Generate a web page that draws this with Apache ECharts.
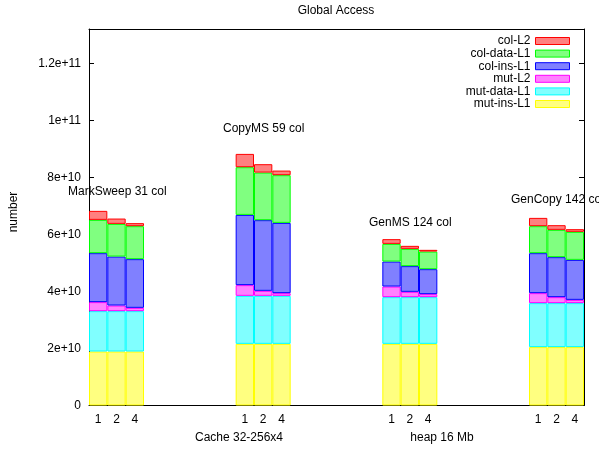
<!DOCTYPE html>
<html><head><meta charset="utf-8">
<script src="https://cdn.jsdelivr.net/npm/echarts@6/dist/echarts.min.js"></script>
<style>html,body{margin:0;padding:0;background:#fff}#c{width:599px;height:449px}</style>
</head><body><div id="c"></div>
<script>
// ---- data ----
const collectors = ['MarkSweep 31 col', 'CopyMS 59 col', 'GenMS 124 col', 'GenCopy 142 col'];
const barTickLabels = ['1', '2', '4'];
const groupAxisLabels = ['Cache 32-256x4', 'heap 16 Mb'];
const seriesNames = ['mut-ins-L1', 'mut-data-L1', 'mut-L2', 'col-ins-L1', 'col-data-L1', 'col-L2'];
const mutInsL1  = [18.93e9, 18.93e9, 18.93e9, 21.62e9, 21.62e9, 21.62e9, 21.62e9, 21.62e9, 21.62e9, 20.47e9, 20.47e9, 20.47e9];
const mutDataL1 = [14.15e9, 14.15e9, 14.15e9, 16.83e9, 16.83e9, 16.83e9, 16.37e9, 16.37e9, 16.37e9, 15.42e9, 15.42e9, 15.42e9];
const mutL2     = [3.16e9, 1.97e9, 1.16e9, 3.75e9, 1.75e9, 0.94e9, 3.72e9, 1.86e9, 1.05e9, 3.50e9, 2.10e9, 1.15e9];
const colInsL1  = [17.17e9, 17.17e9, 17.07e9, 24.63e9, 24.78e9, 24.64e9, 8.76e9, 9.01e9, 8.76e9, 14.02e9, 14.02e9, 14.02e9];
const colDataL1 = [11.67e9, 11.46e9, 11.56e9, 16.72e9, 16.68e9, 16.72e9, 6.20e9, 6.06e9, 6.17e9, 9.46e9, 9.57e9, 9.82e9];
const colL2     = [3.16e9, 1.86e9, 1.06e9, 4.66e9, 2.94e9, 1.61e9, 1.65e9, 1.05e9, 0.60e9, 2.91e9, 1.64e9, 0.94e9];
const yTickStep = 2e10;
const yMax = 1.32e11;

// ---- build category layout (gaps between groups) ----
const GAP = 5;
const categories = [];
const slotOf = [];
collectors.forEach((c, g) => {
  barTickLabels.forEach((t) => { slotOf.push(categories.length); categories.push(t); });
  if (g < collectors.length - 1) for (let i = 0; i < GAP; i++) categories.push('');
});
function spread(arr) {
  const out = categories.map(() => null);
  arr.forEach((v, i) => { out[slotOf[i]] = v; });
  return out;
}
const seriesValues = [mutInsL1, mutDataL1, mutL2, colInsL1, colDataL1, colL2];
const fills   = ['#ffff80', '#80ffff', '#ff80ff', '#8080ff', '#80ff80', '#ff8080'];
const borders = ['#ffff00', '#00ffff', '#ff00ff', '#0000ff', '#00ff00', '#ff0000'];

const FONT = "'Liberation Sans', Arial, sans-serif";
const chart = echarts.init(document.getElementById('c'), null, { renderer: 'canvas' });

const yFmt = (v) => {
  const k = Math.round(v / 1e9);
  if (k % 20 !== 0) return '';
  if (v === 0) return '0';
  return v.toExponential();
};
const tickShow = (idx, val) => val !== '';

const legendData = seriesNames.map((name, i) => ({
  name, itemStyle: { color: fills[i], borderColor: borders[i], borderWidth: 1 }
})).reverse();

chart.setOption({
  animation: false,
  backgroundColor: '#fff',
  textStyle: { fontFamily: FONT },
  title: {
    text: 'Global Access', left: 336, top: 5, textAlign: 'center', padding: 0,
    textStyle: { fontSize: 12, fontWeight: 'normal', color: '#000', fontFamily: FONT }
  },
  legend: {
    orient: 'vertical', right: 29, top: 35, align: 'right',
    itemWidth: 34, itemHeight: 7, itemGap: 0.6, padding: 0,
    data: legendData,
    icon: 'rect',
    textStyle: { fontSize: 12, color: '#000', fontFamily: FONT, lineHeight: 12 }
  },
  grid: { left: 89, top: 29, width: 495, height: 376.5, containLabel: false },
  xAxis: [
    {
      type: 'category', data: categories, position: 'bottom',
      axisLine: { onZero: false, lineStyle: { color: '#000', width: 1 } },
      axisTick: { inside: true, length: 5, alignWithLabel: true, interval: tickShow, lineStyle: { color: '#000' } },
      axisLabel: { interval: 0, margin: 8, fontSize: 12, color: '#000', fontFamily: FONT }
    },
    {
      type: 'category', data: categories, position: 'top',
      axisLine: { onZero: false, lineStyle: { color: '#000', width: 1 } },
      axisTick: { inside: true, length: 5, alignWithLabel: true, interval: tickShow, lineStyle: { color: '#000' } },
      axisLabel: { show: false }
    }
  ],
  yAxis: [
    {
      type: 'value', min: 0, max: yMax, interval: yTickStep, position: 'left',
      splitLine: { show: false },
      axisLine: { show: true, onZero: false, lineStyle: { color: '#000', width: 1 } },
      axisTick: { show: true, inside: true, length: 5, lineStyle: { color: '#000' } },
      axisLabel: { margin: 8, fontSize: 12, color: '#000', fontFamily: FONT, formatter: yFmt, showMaxLabel: false }
    },
    {
      type: 'value', min: 0, max: yMax, interval: yTickStep, position: 'right',
      splitLine: { show: false },
      axisLine: { show: true, onZero: false, lineStyle: { color: '#000', width: 1 } },
      axisTick: { show: true, inside: true, length: 5, lineStyle: { color: '#000' } },
      axisLabel: { show: false }
    }
  ],
  series: seriesNames.map((name, i) => ({
    name, type: 'bar', stack: 'all', xAxisIndex: 0, yAxisIndex: 0,
    barCategoryGap: '0%', barGap: '0%',
    data: spread(seriesValues[i]),
    itemStyle: { color: fills[i], borderColor: borders[i], borderWidth: 1 },
    emphasis: { disabled: true }
  })),
  graphic: [
    { type: 'text', x: 14, y: 212, rotation: Math.PI / 2,
      style: { text: 'number', font: '12px ' + FONT, fill: '#000', align: 'center', verticalAlign: 'middle' } },
    { type: 'text', x: 239, y: 438,
      style: { text: groupAxisLabels[0], font: '12px ' + FONT, fill: '#000', align: 'center', verticalAlign: 'middle' } },
    { type: 'text', x: 442, y: 438,
      style: { text: groupAxisLabels[1], font: '12px ' + FONT, fill: '#000', align: 'center', verticalAlign: 'middle' } },
    { type: 'text', x: 68, y: 192, z: 1,
      style: { text: collectors[0], font: '12px ' + FONT, fill: '#000', align: 'left', verticalAlign: 'middle' } },
    { type: 'text', x: 223, y: 129, z: 1,
      style: { text: collectors[1], font: '12px ' + FONT, fill: '#000', align: 'left', verticalAlign: 'middle' } },
    { type: 'text', x: 369, y: 223, z: 1,
      style: { text: collectors[2], font: '12px ' + FONT, fill: '#000', align: 'left', verticalAlign: 'middle' } },
    { type: 'text', x: 511, y: 200, z: 1,
      style: { text: collectors[3], font: '12px ' + FONT, fill: '#000', align: 'left', verticalAlign: 'middle' } }
  ]
});
</script></body></html>
